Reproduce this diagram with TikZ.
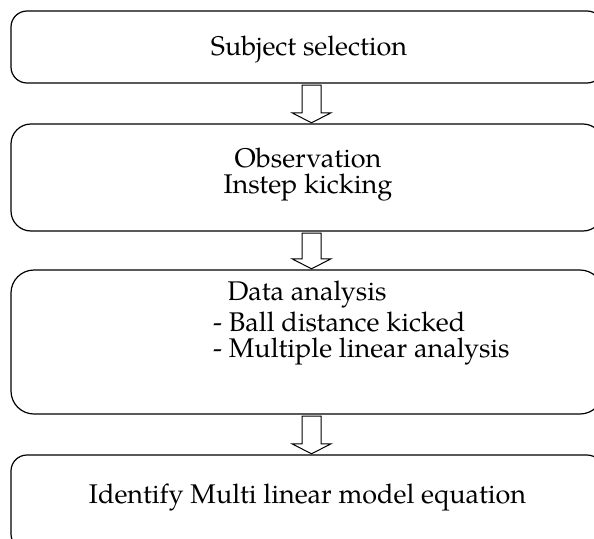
\documentclass[tikz,border=0pt]{standalone}
\usepackage{fontspec}
\setmainfont{TeX Gyre Pagella}
\usetikzlibrary{calc}
\tikzset{
  box/.style={draw, line width=1.2pt, rounded corners=#1, fill=none, inner sep=0pt},
  lbl/.style={anchor=base, inner sep=0pt, font=\fontsize{27}{26.5}\selectfont},
  barrow/.style={draw, line width=1pt, fill=white, line join=miter},
}
\newcommand{\blockarr}[2]{%
  \path let \p1=(#1.south), \p2=(#2.north) in
    [barrow] (\x1+4.5pt-9.5pt,\y1-2pt) -- (\x1+4.5pt+9.5pt,\y1-2pt)
    -- (\x1+4.5pt+9.5pt,\y2+11pt) -- (\x1+4.5pt+19.5pt,\y2+11pt)
    -- (\x1+4.5pt,\y2+1pt) -- (\x1+4.5pt-19.5pt,\y2+11pt)
    -- (\x1+4.5pt-9.5pt,\y2+11pt) -- cycle;}
\begin{document}
\begin{tikzpicture}[x=1pt,y=-1pt]
\useasboundingbox (0,0) rectangle (594,538);
\clip (0,0) rectangle (594,538);
\draw[box=16pt] (11,11) rectangle (603,83);
\draw[box=20pt] (11,124) rectangle (603,231);
\draw[box=23pt] (11,270) rectangle (603,414);
\draw[box=16pt] (11,455) rectangle (603,550);
\node[minimum width=592pt, minimum height=72pt] (b1) at (307,47) {};
\node[minimum width=592pt, minimum height=107pt] (b2) at (307,177.5) {};
\node[minimum width=592pt, minimum height=144pt] (b3) at (307,342) {};
\node[minimum width=592pt, minimum height=95pt] (b4) at (307,502.5) {};
\node[lbl] (t1) at (309,55) {Subject selection};
\node[lbl] (t2a) at (308,167) {Observation};
\node[lbl] (t2b) at (308,193) {Instep kicking};
\node[lbl] (t3a) at (307,300) {Data analysis};
\node[lbl, anchor=base west] (t3b) at (213,331) {- Ball distance kicked};
\node[lbl, anchor=base west] (t3c) at (213,357) {- Multiple linear analysis};
\node[lbl] (t4) at (307.5,503) {Identify Multi linear model equation};
\blockarr{b1}{b2}
\blockarr{b2}{b3}
\blockarr{b3}{b4}
\end{tikzpicture}
\end{document}
